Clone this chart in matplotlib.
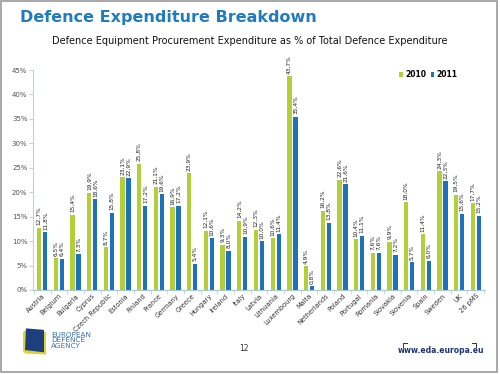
import matplotlib
matplotlib.use("Agg")
import matplotlib.pyplot as plt
import numpy as np
from matplotlib.patches import Polygon, Rectangle
from matplotlib.lines import Line2D

countries = ["Austria", "Belgium", "Bulgaria", "Cyprus", "Czech Republic", "Estonia",
             "Finland", "France", "Germany", "Greece", "Hungary", "Ireland", "Italy",
             "Latvia", "Lithuania", "Luxembourg", "Malta", "Netherlands", "Poland",
             "Portugal", "Romania", "Slovakia", "Slovenia", "Spain", "Sweden", "UK", "26 pMS"]
vals_2010 = [12.7, 6.5, 15.4, 19.9, 8.7, 23.1, 25.8, 21.1, 16.9, 23.9, 12.1, 9.3, 14.2,
             12.3, 10.6, 43.7, 4.9, 16.2, 22.6, 10.4, 7.6, 9.9, 18.0, 11.4, 24.3, 19.5, 17.7]
vals_2011 = [11.8, 6.4, 7.3, 18.6, 15.8, 22.9, 17.2, 19.6, 17.2, 5.4, 10.6, 8.0, 10.9,
             10.0, 11.4, 35.4, 0.8, 13.8, 21.6, 11.1, 7.6, 7.2, 5.7, 6.0, 22.3, 15.6, 15.2]
yticks = [0, 5, 10, 15, 20, 25, 30, 35, 40, 45]

green = "#b2cf3a"
blue = "#1c73b9"

fig = plt.figure(figsize=(5, 3.74), dpi=100)
fig.patch.set_facecolor("white")

# frame around the slide
fig.add_artist(Rectangle((0.002, 0.006), 0.992, 0.99, transform=fig.transFigure,
                         fill=False, edgecolor="#9a9a9a", linewidth=1.2))

fig.text(0.04, 0.952, "Defence Expenditure Breakdown", color="#1f7cc1",
         fontsize=11.5, fontweight="bold", ha="left", va="center")
fig.text(0.5, 0.891, "Defence Equipment Procurement Expenditure as % of Total Defence Expenditure",
         fontsize=7, ha="center", va="center", color="#111111")

ax = fig.add_axes([0.066, 0.2246, 0.904, 0.5882])
x = np.arange(len(countries))
w = 0.26
b1 = ax.bar(x - 0.18, vals_2010, w, color=green, label="2010")
b2 = ax.bar(x + 0.18, vals_2011, w, color=blue, label="2011")

for rects, vals in ((b1, vals_2010), (b2, vals_2011)):
    for r, v in zip(rects, vals):
        ax.text(r.get_x() + r.get_width() / 2, v + 0.5, ("%.1f%%" % v).replace(".", ","),
                rotation=90, ha="center", va="bottom", fontsize=4.2, color="#222222")

ax.set_xlim(-0.55, len(countries) - 0.45)
ax.set_ylim(0, 45)
ax.set_yticks(yticks)
ax.set_yticklabels(["%d%%" % t for t in yticks], fontsize=5, color="#555555")
ax.set_xticks(x)
ax.set_xticklabels(countries, rotation=45, ha="right", rotation_mode="anchor",
                   fontsize=4.8, color="#333333")
ax.set_xticks(np.arange(len(countries) + 1) - 0.5, minor=True)
ax.tick_params(axis="x", which="major", length=0, pad=2)
ax.tick_params(axis="x", which="minor", length=3, color="#c0d0e0")
ax.tick_params(axis="y", length=3, color="#c0d0e0", pad=1)
for s in ("top", "right"):
    ax.spines[s].set_visible(False)
ax.spines["left"].set_color("#c0d0e0")
ax.spines["bottom"].set_color("#a8c8e0")

ax.legend(loc="upper right", bbox_to_anchor=(0.955, 1.03), ncol=2, frameon=False,
          handlelength=0.5, handleheight=0.5, columnspacing=0.6,
          handletextpad=0.3, prop={"weight": "bold", "size": 5.5})

# EDA logo (simplified)
fig.add_artist(Polygon([[0.046, 0.062], [0.05, 0.055], [0.092, 0.052], [0.092, 0.112],
                        [0.05, 0.117], [0.046, 0.112]], closed=True,
                       transform=fig.transFigure, facecolor="#e0d030", edgecolor="none"))
fig.add_artist(Polygon([[0.05, 0.064], [0.088, 0.058], [0.088, 0.118], [0.052, 0.122]],
                       closed=True, transform=fig.transFigure,
                       facecolor="#1d3f80", edgecolor="none"))
fig.text(0.102, 0.09, "EUROPEAN\nDEFENCE\nAGENCY", fontsize=5.2, color="#3a6fb5",
         ha="left", va="center", linespacing=0.95)
fig.text(0.487, 0.067, "12", fontsize=5.5, color="#333333", ha="center", va="center")
fig.text(0.881, 0.064, "www.eda.europa.eu", fontsize=5.5, color="#1d3570",
         fontweight="bold", ha="center", va="center")
fig.add_artist(Line2D([0.806, 0.806, 0.814], [0.072, 0.083, 0.083], transform=fig.transFigure,
                      color="#333333", linewidth=0.7))
fig.add_artist(Line2D([0.944, 0.952, 0.952], [0.083, 0.083, 0.072], transform=fig.transFigure,
                      color="#333333", linewidth=0.7))

fig.savefig("out.png", dpi=100)
